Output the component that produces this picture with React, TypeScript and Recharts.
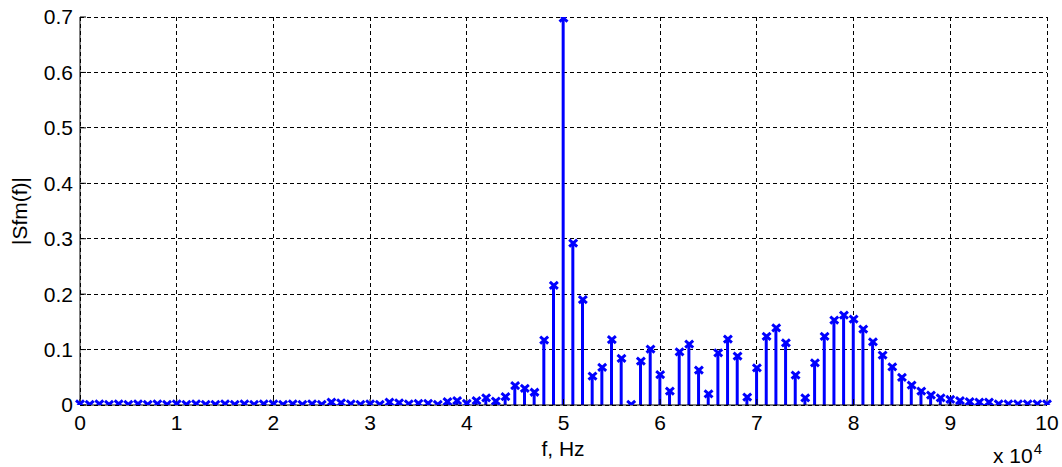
import { ComposedChart, Bar, Scatter, XAxis, YAxis, CartesianGrid } from "recharts";

// frequency bins, in units of 10^4 Hz (0 .. 10, step 0.1)
const freqs = Array.from({ length: 101 }, (_, i) => Math.round(i) / 10);

const magnitude = [
  0.002, 0.001, 0.002, 0.001, 0.002, 0.001, 0.002, 0.001, 0.002, 0.001,
  0.002, 0.001, 0.002, 0.001, 0.001, 0.002, 0.001, 0.002, 0.001, 0.002,
  0.002, 0.001, 0.002, 0.001, 0.002, 0.001, 0.005, 0.004, 0.002, 0.001,
  0.002, 0.001, 0.005, 0.004, 0.002, 0.003, 0.003, 0.001, 0.006, 0.008,
  0.003, 0.008, 0.013, 0.007, 0.015, 0.035, 0.03, 0.023, 0.117, 0.216,
  0.698, 0.292, 0.19, 0.052, 0.068, 0.118, 0.084, 0.001, 0.079, 0.101,
  0.055, 0.025, 0.096, 0.11, 0.063, 0.02, 0.094, 0.119, 0.088, 0.014,
  0.067, 0.124, 0.139, 0.112, 0.054, 0.013, 0.076, 0.124, 0.153, 0.162,
  0.155, 0.137, 0.114, 0.09, 0.069, 0.05, 0.036, 0.025, 0.018, 0.013,
  0.01, 0.008, 0.006, 0.005, 0.005, 0.002, 0.002, 0.002, 0.002, 0.002, 0.002,
];

const xTicks = [0, 1, 2, 3, 4, 5, 6, 7, 8, 9, 10];
const yTicks = [0, 0.1, 0.2, 0.3, 0.4, 0.5, 0.6, 0.7];

const data = freqs.map((f, i) => ({ f, v: magnitude[i] }));

const font = "'Liberation Sans', Arial, sans-serif";
const blue = "#0000ff";

const Cross = (props: any) => {
  const { cx, cy } = props;
  if (cx == null || cy == null) return null;
  return (
    <path
      d={`M${cx - 4},${cy - 3.5} L${cx + 4},${cy + 3.5} M${cx - 4},${cy + 3.5} L${cx + 4},${cy - 3.5}`}
      stroke={blue}
      strokeWidth={3}
      fill="none"
    />
  );
};

const tickStyle = { fontSize: 21, fill: "#000", fontFamily: font };

export default function App() {
  return (
    <div style={{ position: "absolute", left: 0, top: 0, width: 1062, height: 467, background: "#fff", fontFamily: font }}>
      <ComposedChart width={1062} height={467} data={data} margin={{ top: 17, right: 15, bottom: 0, left: 0 }}>
        <CartesianGrid stroke="#000" strokeDasharray="4 3" shapeRendering="crispEdges" />
        <XAxis
          dataKey="f"
          type="number"
          domain={[0, 10]}
          ticks={xTicks}
          interval={0}
          height={62}
          stroke="#000"
          tickSize={-6}
          tickMargin={16}
          tick={tickStyle}
        />
        <XAxis
          xAxisId="top"
          orientation="top"
          type="number"
          domain={[0, 10]}
          ticks={xTicks}
          height={0}
          mirror
          tick={false}
          stroke="#000"
          tickSize={6}
        />
        <YAxis
          type="number"
          domain={[0, 0.7]}
          ticks={yTicks}
          interval={0}
          width={80}
          stroke="#000"
          tickSize={-6}
          tickMargin={13}
          tick={tickStyle}
          allowDataOverflow
        />
        <YAxis
          yAxisId="right"
          orientation="right"
          type="number"
          domain={[0, 0.7]}
          ticks={yTicks}
          width={0}
          mirror
          tick={false}
          stroke="#000"
          tickSize={6}
        />
        <Bar dataKey="v" fill={blue} barSize={3} isAnimationActive={false} />
        <Scatter dataKey="v" shape={<Cross />} isAnimationActive={false} />
      </ComposedChart>
      <div
        style={{
          position: "absolute",
          left: 19,
          top: 211,
          transform: "translate(-50%, -50%) rotate(-90deg)",
          fontSize: 21,
          whiteSpace: "nowrap",
          lineHeight: 1,
        }}
      >
        |Sfm(f)|
      </div>
      <div style={{ position: "absolute", left: 0, width: 1126, top: 438, textAlign: "center", fontSize: 21, lineHeight: 1 }}>
        f, Hz
      </div>
      <div style={{ position: "absolute", left: 993, top: 445, fontSize: 21, lineHeight: 1, whiteSpace: "nowrap" }}>
        x 10<sup style={{ fontSize: 15, verticalAlign: "top", position: "relative", top: -4, marginLeft: 1 }}>4</sup>
      </div>
    </div>
  );
}
